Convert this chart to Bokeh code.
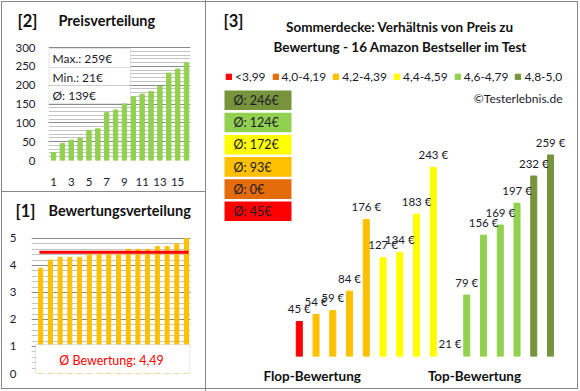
import numpy as np
from bokeh.plotting import figure
from bokeh.layouts import row, column
from bokeh.models import (Label, BoxAnnotation, Legend, LegendItem, FixedTicker, Range1d)
from bokeh.core.properties import value
from bokeh.embed import file_html
from bokeh.resources import INLINE

FONT = "Lato"
DARK = "#1b1b2e"
TITLE = "#111111"
BORDER = "#878787"
W = "#ffffff"

# ---------------- data ----------------
prices_sorted = [21, 45, 54, 59, 79, 84, 127, 134, 156, 169, 176, 183, 197, 232, 243, 259]
price_tick_labels = ["1", "3", "5", "7", "9", "11", "13", "15"]
price_axis_ticks = [0, 50, 100, 150, 200, 250, 300]
ratings_sorted = [3.9, 4.2, 4.3, 4.3, 4.3, 4.4, 4.4, 4.4, 4.4, 4.6, 4.6, 4.6, 4.7, 4.7, 4.8, 5.0]
rating_axis_ticks = [0, 1, 2, 3, 4, 5]
rating_mean = [4.49]

product_prices = [45, 54, 59, 84, 176, 127, 134, 183, 243, 21, 79, 156, 169, 197, 232, 259]
product_group = [0, 2, 2, 2, 2, 3, 3, 3, 3, 4, 4, 4, 4, 4, 5, 5]
bar_shown = [1, 1, 1, 1, 1, 1, 1, 1, 1, 0, 1, 1, 1, 1, 1, 1]
group_labels = ["<3,99", "4,0-4,19", "4,2-4,39", "4,4-4,59", "4,6-4,79", "4,8-5,0"]
group_colors = ["#FF0000", "#E46C0A", "#FFC000", "#FFFF00", "#92D050", "#77933C"]
axis_group_labels = ["Flop-Bewertung", "Top-Bewertung"]
axis_group_pos = [1.77, 11.46]


def conv(L, T, Wd, H, xr, yr):
    def fx(px):
        return xr[0] + (px - L) / Wd * (xr[1] - xr[0])

    def fy(py):
        return yr[1] - (py - T) / H * (yr[1] - yr[0])
    return fx, fy


def base_fig(w, h, L, T, Wd, H, xr, yr, shadow, axes=True):
    kw = {} if axes else {"x_axis_location": None, "y_axis_location": None}
    p = figure(width=w, height=h, x_range=Range1d(*xr), y_range=Range1d(*yr),
               output_backend="svg", toolbar_location=None, tools="",
               min_border_left=L, min_border_top=T,
               min_border_right=w - L - Wd, min_border_bottom=h - T - H, **kw)
    p.frame_align = False
    p.outline_line_color = None
    p.border_fill_color = None
    p.background_fill_color = None
    p.xgrid.grid_line_color = None
    p.ygrid.grid_line_color = None
    p.styles = {"box-shadow": shadow}
    return p


def header_fig(w, h, shadow):
    # pixel-mapped figure holding the panel headings
    return base_fig(w, h, 0, 0, w, h, (0, w), (h, 0), shadow, axes=False)


def style_axis(ax, size="11.5px", color=DARK, bold=False, standoff=6):
    ax.axis_line_color = None
    ax.major_tick_line_color = None
    ax.minor_tick_line_color = None
    ax.major_label_text_font = FONT
    ax.major_label_text_font_size = size
    ax.major_label_text_color = color
    ax.major_label_text_font_style = "bold" if bold else "normal"
    ax.major_label_standoff = standoff


def add_text(p, x, y, text, size="11.5px", bold=False, color=DARK, align="left"):
    p.add_layout(Label(x=x, y=y, text=text, text_font=FONT, text_font_size=size,
                       text_font_style="bold" if bold else "normal", text_color=color,
                       text_align=align, text_baseline="middle"))


idx = list(range(1, len(prices_sorted) + 1))

# ---------------- panel [2] Preisverteilung ----------------
h2 = header_fig(205, 40, "inset 1px 1px 0 0 %s, inset 2px 2px 0 0 %s" % (W, BORDER))
add_text(h2, 17, 20, "[2]", size="16.5px", bold=True, color=TITLE)
add_text(h2, 58, 20, "Preisverteilung", size="14.5px", bold=True, color=TITLE)

xr2, yr2 = (0.436, 16.451), (0, 318.6)
L2, T2, W2, H2 = 48, 0, 142, 120
p2 = base_fig(205, 151, L2, T2, W2, H2, xr2, yr2,
              "inset 1px 0 0 0 %s, inset 2px 0 0 0 %s" % (W, BORDER))
fx2, fy2 = conv(L2, T2, W2, H2, xr2, yr2)
p2.vbar(x=idx, top=prices_sorted, width=0.5, color="#92D050")
tk2 = FixedTicker(ticks=price_axis_ticks,
                  minor_ticks=list(range(0, price_axis_ticks[-1] + 1, 10)))
p2.yaxis.ticker = tk2
p2.ygrid.ticker = tk2
p2.ygrid.grid_line_color = "#8a8a8a"
p2.ygrid.minor_grid_line_color = "#c4c4c4"
p2.xaxis.ticker = FixedTicker(ticks=[int(t) for t in price_tick_labels])
style_axis(p2.yaxis[0], standoff=7)
style_axis(p2.xaxis[0], standoff=11)
rows2 = [8, 27, 45, 63]
for i in range(3):
    p2.add_layout(BoxAnnotation(left=fx2(48.5), right=fx2(130), top=fy2(rows2[i]),
                                bottom=fy2(rows2[i + 1]), fill_color="white", fill_alpha=1,
                                line_color="#a6a6a6", line_width=1))
stats = [("Max.: %d€" % max(prices_sorted)), ("Min.: %d€" % min(prices_sorted)),
         ("Ø: %d€" % int(sum(prices_sorted) / len(prices_sorted) + 0.5))]
for i, s in enumerate(stats):
    add_text(p2, fx2(52), fy2((rows2[i] + rows2[i + 1]) / 2 + 0.5), s, size="12px")

# ---------------- panel [1] Bewertungsverteilung ----------------
h1 = header_fig(205, 35, "inset 1px 0 0 0 %s, inset 2px 0 0 0 %s, inset 0 1px 0 0 %s"
                % (W, BORDER, BORDER))
add_text(h1, 15, 19, "[1]", size="16.5px", bold=True, color=TITLE)
add_text(h1, 48, 19, "Bewertungsverteilung", size="14.5px", bold=True, color=TITLE)

xr1, yr1 = (0.053, 16.41), (0, 5.444)
L1, T1, W1, H1 = 31, 0, 159, 147
p1 = base_fig(205, 165, L1, T1, W1, H1, xr1, yr1,
              "inset 1px 0 0 0 %s, inset 0 -2px 0 0 %s, inset 2px 0 0 0 %s, inset 0 -3px 0 0 %s"
              % (W, W, BORDER, BORDER))
fx1, fy1 = conv(L1, T1, W1, H1, xr1, yr1)
p1.vbar(x=idx, top=ratings_sorted, width=0.41, color="#FFC000")
p1.line(x=[idx[0] - 0.13, idx[-1] + 0.2], y=rating_mean * 2, line_color="#FF0000", line_width=3)
minor1 = [round(v * 0.2, 1) for v in range(0, int(rating_axis_ticks[-1] / 0.2) + 1)]
tk1 = FixedTicker(ticks=rating_axis_ticks, minor_ticks=minor1)
p1.yaxis.ticker = tk1
p1.ygrid.ticker = tk1
p1.ygrid.grid_line_color = "#8a8a8a"
p1.ygrid.minor_grid_line_color = "#c4c4c4"
p1.xaxis.visible = False
style_axis(p1.yaxis[0], standoff=9)
p1.add_layout(BoxAnnotation(left=fx1(35), right=fx1(189.5), top=fy1(118), bottom=fy1(147),
                            fill_color="white", fill_alpha=1, line_color="#a6a6a6", line_width=1))
add_text(p1, fx1(111), fy1(133.5),
         "Ø Bewertung: " + ("%.2f" % rating_mean[0]).replace(".", ","),
         size="12.5px", color="#FF0000", align="center")

# ---------------- panel [3] ----------------
xr3, yr3 = (-4.6, 17.79), (0, 457.6)
L3, T3, W3, H3 = 0, 0, 375, 356
p3 = base_fig(375, 391, L3, T3, W3, H3, xr3, yr3,
              "inset 1px 0 0 0 %s, inset 0 1px 0 0 %s, inset -2px -2px 0 0 %s, "
              "inset 0 2px 0 0 %s, inset -3px -3px 0 0 %s" % (BORDER, W, W, BORDER, BORDER))
fx3, fy3 = conv(L3, T3, W3, H3, xr3, yr3)
p3.yaxis.visible = False

pos = list(range(1, len(product_prices) + 1))
rends = []
for g in range(len(group_labels)):
    sel = [i for i in range(len(pos)) if product_group[i] == g]
    xs = np.array([pos[i] for i in sel], dtype=float)
    tops = np.array([product_prices[i] if bar_shown[i] else np.nan for i in sel], dtype=float)
    if len(sel) == 0:  # empty class: keep a legend entry without drawing a bar
        xs, tops = np.array([np.nan]), np.array([np.nan])
    rends.append(p3.vbar(x=xs, top=tops, width=0.36, color=group_colors[g]))

p3.text(x=pos, y=[product_prices[i] * bar_shown[i] for i in range(len(pos))],
        text=["%d €" % v for v in product_prices], text_align="center", text_baseline="middle",
        y_offset=-13, text_font=value(FONT), text_font_size="11.5px", text_color=DARK)

legend = Legend(items=[LegendItem(label=group_labels[g], renderers=[rends[g]])
                       for g in range(len(group_labels))],
                orientation="horizontal", location=(20, 272),
                glyph_width=7, glyph_height=7, label_standoff=3, spacing=6,
                padding=0, margin=0, label_height=12, label_width=10,
                border_line_color=None, background_fill_alpha=0,
                label_text_font=FONT, label_text_font_size="12px", label_text_color=DARK)
p3.add_layout(legend)

# group average boxes (top: best class)
for r, g in enumerate(reversed(range(len(group_labels)))):
    vals = [product_prices[i] for i in range(len(pos)) if product_group[i] == g]
    avg = int(sum(vals) / len(vals) + 0.5) if vals else 0
    top = 90 + 22.2 * r
    p3.rect(x=[fx3((19 + 86) / 2)], y=[fy3(top + 9.8)], width=67, height=19.6,
            width_units="screen", height_units="screen", fill_color=group_colors[g], line_color=None)
    p3.text(x=[fx3(28)], y=[fy3(top + 10)], text=["Ø: %d€" % avg], text_baseline="middle",
            text_font=value(FONT), text_font_size="12.5px", text_color=DARK)

add_text(p3, fx3(18), fy3(20), "[3]", size="16.5px", bold=True, color=TITLE)
add_text(p3, fx3(194.5), fy3(26), "Sommerdecke: Verhältnis von Preis zu", size="13.5px",
         bold=True, color=TITLE, align="center")
add_text(p3, fx3(195), fy3(46), "Bewertung - 16 Amazon Bestseller im Test", size="13.5px",
         bold=True, color=TITLE, align="center")
add_text(p3, fx3(357), fy3(98), "©Testerlebnis.de", size="12px", align="right")

p3.xaxis.ticker = FixedTicker(ticks=axis_group_pos)
p3.xaxis.major_label_overrides = {axis_group_pos[0]: axis_group_labels[0],
                                  axis_group_pos[1]: axis_group_labels[1]}
style_axis(p3.xaxis[0], size="13.5px", bold=True, color=TITLE, standoff=5)

layout = row(column(h2, p2, h1, p1), p3)
open("out.html", "w").write(file_html(layout, INLINE))
